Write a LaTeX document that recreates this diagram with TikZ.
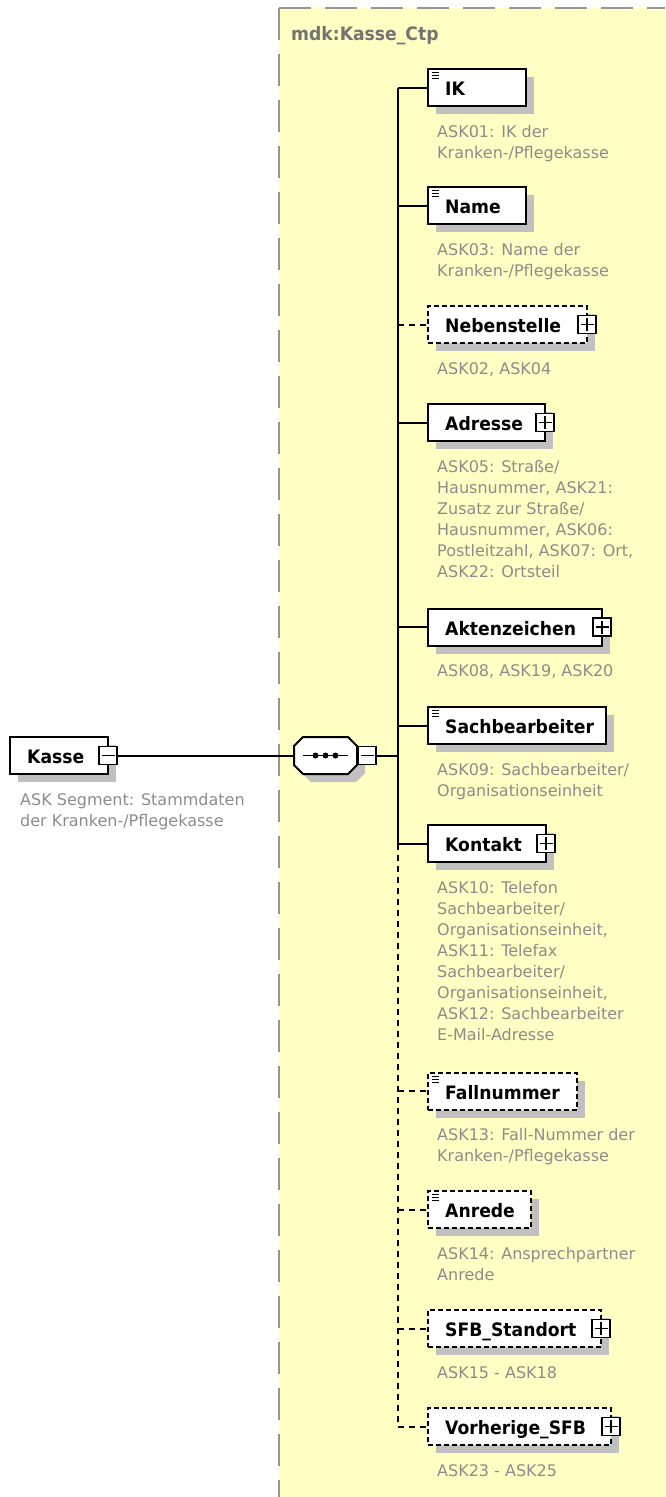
\documentclass[tikz,border=0pt]{standalone}
\usepackage{fontspec}
\setmainfont{DejaVu Sans}
\newfontfamily\namefont{DejaVu Sans}[FakeStretch=0.93]
\usetikzlibrary{calc}
\pgfdeclarelayer{back}
\pgfdeclarelayer{shade}
\pgfsetlayers{back,shade,main}
\definecolor{bgyellow}{RGB}{255,255,196}
\definecolor{annogray}{RGB}{140,140,140}
\definecolor{titlegray}{RGB}{115,115,115}
\definecolor{shadowgray}{RGB}{192,192,192}
\definecolor{bordergray}{RGB}{150,150,150}
\newcommand\annlines[1]{\begin{tabular}[t]{@{}l@{}}#1\end{tabular}}
\newcommand\shadowof[1]{\begin{pgfonlayer}{shade}\fill[shadowgray] ($(#1.north west)+(8,8)$) rectangle ($(#1.south east)+(8,8)$);\end{pgfonlayer}}
\newcommand\docicon[1]{\draw[line width=1.2pt] ($(#1.north west)+(3.5,3.8)$) -- +(7.5,0) ($(#1.north west)+(3.5,6.8)$) -- +(7.5,0) ($(#1.north west)+(3.5,9.8)$) -- +(7.5,0);}
\begin{document}
\begin{tikzpicture}[x=1pt,y=-1pt,
  box/.style={draw=black, line width=2pt, fill=white, minimum height=37pt, inner sep=0pt, outer sep=0pt, minimum width=#1},
  optbox/.style={box=#1, dash pattern=on 5pt off 3pt},
  ename/.style={anchor=base west, inner sep=0pt, font=\namefont\bfseries\fontsize{18.5pt}{20pt}\selectfont},
  anno/.style={anchor=base west, inner sep=0pt, text=annogray, font=\fontsize{16pt}{21pt}\selectfont},
  btn/.style={draw=black, fill=white, line width=1.4pt, minimum size=18pt, inner sep=0pt, outer sep=0pt},
  minusbtn/.style={btn, path picture={\draw[line width=1.4pt] ([xshift=-6.5pt]path picture bounding box.center) -- ([xshift=6.5pt]path picture bounding box.center);}},
  plusbtn/.style={btn, path picture={\draw[line width=1.4pt] ([xshift=-6.5pt]path picture bounding box.center) -- ([xshift=6.5pt]path picture bounding box.center) ([yshift=-6.5pt]path picture bounding box.center) -- ([yshift=6.5pt]path picture bounding box.center);}},
  conn/.style={line width=2pt},
  optconn/.style={conn, dash pattern=on 6pt off 5pt}
]
\useasboundingbox (0,0) rectangle (665,1497);

% background region
\begin{pgfonlayer}{back}
\fill[bgyellow] (279,8) rectangle (665,1497);
\draw[bordergray, line width=2pt, dash pattern=on 32pt off 14pt] (279,8) -- (665,8);
\draw[bordergray, line width=2pt, dash pattern=on 32pt off 14pt] (279,8) -- (279,1497);
\end{pgfonlayer}
\node[anchor=base west, inner sep=0pt, text=titlegray, font=\namefont\bfseries\fontsize{18.5pt}{20pt}\selectfont] (title) at (291,40) {mdk:Kasse\_Ctp};

% Kasse
\node[box=98pt] (kasse) at (59,755.5) {};
\shadowof{kasse}
\node[ename] (kassename) at ($(kasse.west)+(17,8)$) {Kasse};
\node[minusbtn] (kassebtn) at (kasse.east) {};
\node[anno] (kasseann) at ($(kasse.south west)+(10,31)$) {\annlines{ASK Segment: Stammdaten\\der Kranken-/Pflegekasse}};

% sequence compositor
\node[minimum width=63pt, minimum height=37pt, inner sep=0pt, outer sep=0pt] (seq) at (325.5,755.5) {};
\begin{pgfonlayer}{shade}
\fill[shadowgray] ($(seq.north west)+(17,8)$) -- ($(seq.north east)+(-1,8)$) -- ($(seq.north east)+(8,17)$) -- ($(seq.south east)+(8,-1)$) -- ($(seq.south east)+(-1,8)$) -- ($(seq.south west)+(17,8)$) -- ($(seq.south west)+(8,-1)$) -- ($(seq.north west)+(8,17)$) -- cycle;
\end{pgfonlayer}
\draw[line width=2pt, fill=white] ($(seq.north west)+(9,0)$) -- ($(seq.north east)+(-9,0)$) -- ($(seq.north east)+(0,9)$) -- ($(seq.south east)+(0,-9)$) -- ($(seq.south east)+(-9,0)$) -- ($(seq.south west)+(9,0)$) -- ($(seq.south west)+(0,-9)$) -- ($(seq.north west)+(0,9)$) -- cycle;
\draw[line width=1.6pt] ($(seq.west)+(9,0)$) -- ($(seq.east)+(-9,0)$);
\fill ($(seq.center)+(-10,0)$) circle (3) ($(seq.center)$) circle (3) ($(seq.center)+(10,0)$) circle (3);
\node[minusbtn] (seqbtn) at ($(seq.east)+(10,0)$) {};

% spine coordinate
\coordinate (sp) at (398,0);

% elements
\node[box=98pt] (ik) at (477,87.5) {};
\shadowof{ik}\docicon{ik}
\node[ename] (ikname) at ($(ik.west)+(17,8)$) {IK};
\node[anno] (ikann) at ($(ik.south west)+(9,31)$) {\annlines{ASK01: IK der\\Kranken-/Pflegekasse}};

\node[box=98pt] (name) at (477,205.5) {};
\shadowof{name}\docicon{name}
\node[ename] (namename) at ($(name.west)+(17,8)$) {Name};
\node[anno] (nameann) at ($(name.south west)+(9,31)$) {\annlines{ASK03: Name der\\Kranken-/Pflegekasse}};

\node[optbox=159pt] (neb) at (507.5,324.5) {};
\shadowof{neb}
\node[ename] (nebname) at ($(neb.west)+(17,8)$) {Nebenstelle};
\node[plusbtn] (nebbtn) at (neb.east) {};
\node[anno] (nebann) at ($(neb.south west)+(9,31)$) {\annlines{ASK02, ASK04}};

\node[box=117pt] (adr) at (486.5,422.5) {};
\shadowof{adr}
\node[ename] (adrname) at ($(adr.west)+(17,8)$) {Adresse};
\node[plusbtn] (adrbtn) at (adr.east) {};
\node[anno] (adrann) at ($(adr.south west)+(9,31)$) {\annlines{ASK05: Straße/\\Hausnummer, ASK21:\\Zusatz zur Straße/\\Hausnummer, ASK06:\\Postleitzahl, ASK07: Ort,\\ASK22: Ortsteil}};

\node[box=174pt] (akt) at (515,627) {};
\shadowof{akt}
\node[ename] (aktname) at ($(akt.west)+(17,8)$) {Aktenzeichen};
\node[plusbtn] (aktbtn) at (akt.east) {};
\node[anno] (aktann) at ($(akt.south west)+(9,31)$) {\annlines{ASK08, ASK19, ASK20}};

\node[box=178pt] (sach) at (517,725.5) {};
\shadowof{sach}\docicon{sach}
\node[ename] (sachname) at ($(sach.west)+(17,8)$) {Sachbearbeiter};
\node[anno] (sachann) at ($(sach.south west)+(9,31)$) {\annlines{ASK09: Sachbearbeiter/\\Organisationseinheit}};

\node[box=118pt] (kon) at (487,843.5) {};
\shadowof{kon}
\node[ename] (konname) at ($(kon.west)+(17,8)$) {Kontakt};
\node[plusbtn] (konbtn) at (kon.east) {};
\node[anno] (konann) at ($(kon.south west)+(9,31)$) {\annlines{ASK10: Telefon\\Sachbearbeiter/\\Organisationseinheit,\\ASK11: Telefax\\Sachbearbeiter/\\Organisationseinheit,\\ASK12: Sachbearbeiter\\E-Mail-Adresse}};

\node[optbox=149pt] (fall) at (502.5,1091) {};
\shadowof{fall}\docicon{fall}
\node[ename] (fallname) at ($(fall.west)+(17,8)$) {Fallnummer};
\node[anno] (fallann) at ($(fall.south west)+(9,31)$) {\annlines{ASK13: Fall-Nummer der\\Kranken-/Pflegekasse}};

\node[optbox=103pt] (anr) at (479.5,1209.5) {};
\shadowof{anr}\docicon{anr}
\node[ename] (anrname) at ($(anr.west)+(17,8)$) {Anrede};
\node[anno] (anrann) at ($(anr.south west)+(9,31)$) {\annlines{ASK14: Ansprechpartner\\Anrede}};

\node[optbox=173pt] (sfb) at (514.5,1328.5) {};
\shadowof{sfb}
\node[ename] (sfbname) at ($(sfb.west)+(17,8)$) {SFB\_Standort};
\node[plusbtn] (sfbbtn) at (sfb.east) {};
\node[anno] (sfbann) at ($(sfb.south west)+(9,31)$) {\annlines{ASK15 - ASK18}};

\node[optbox=183pt] (vsfb) at (519.5,1426.5) {};
\shadowof{vsfb}
\node[ename] (vsfbname) at ($(vsfb.west)+(17,8)$) {Vorherige\_SFB};
\node[plusbtn] (vsfbbtn) at (vsfb.east) {};
\node[anno] (vsfbann) at ($(vsfb.south west)+(9,31)$) {\annlines{ASK23 - ASK25}};

% connectors
\draw[conn] (kassebtn.east) -- (seq.west);
\draw[conn] (seqbtn.east) -- (seqbtn.east -| sp);
\draw[conn] (ik.west -| sp) -- (kon.west -| sp);
\draw[optconn] (kon.west -| sp) -- (vsfb.west -| sp);
\draw[conn] (ik.west -| sp) -- (ik.west);
\draw[conn] (name.west -| sp) -- (name.west);
\draw[optconn] (neb.west -| sp) -- (neb.west);
\draw[conn] (adr.west -| sp) -- (adr.west);
\draw[conn] (akt.west -| sp) -- (akt.west);
\draw[conn] (sach.west -| sp) -- (sach.west);
\draw[conn] (kon.west -| sp) -- (kon.west);
\draw[optconn] (fall.west -| sp) -- (fall.west);
\draw[optconn] (anr.west -| sp) -- (anr.west);
\draw[optconn] (sfb.west -| sp) -- (sfb.west);
\draw[optconn] (vsfb.west -| sp) -- (vsfb.west);
\end{tikzpicture}
\end{document}
